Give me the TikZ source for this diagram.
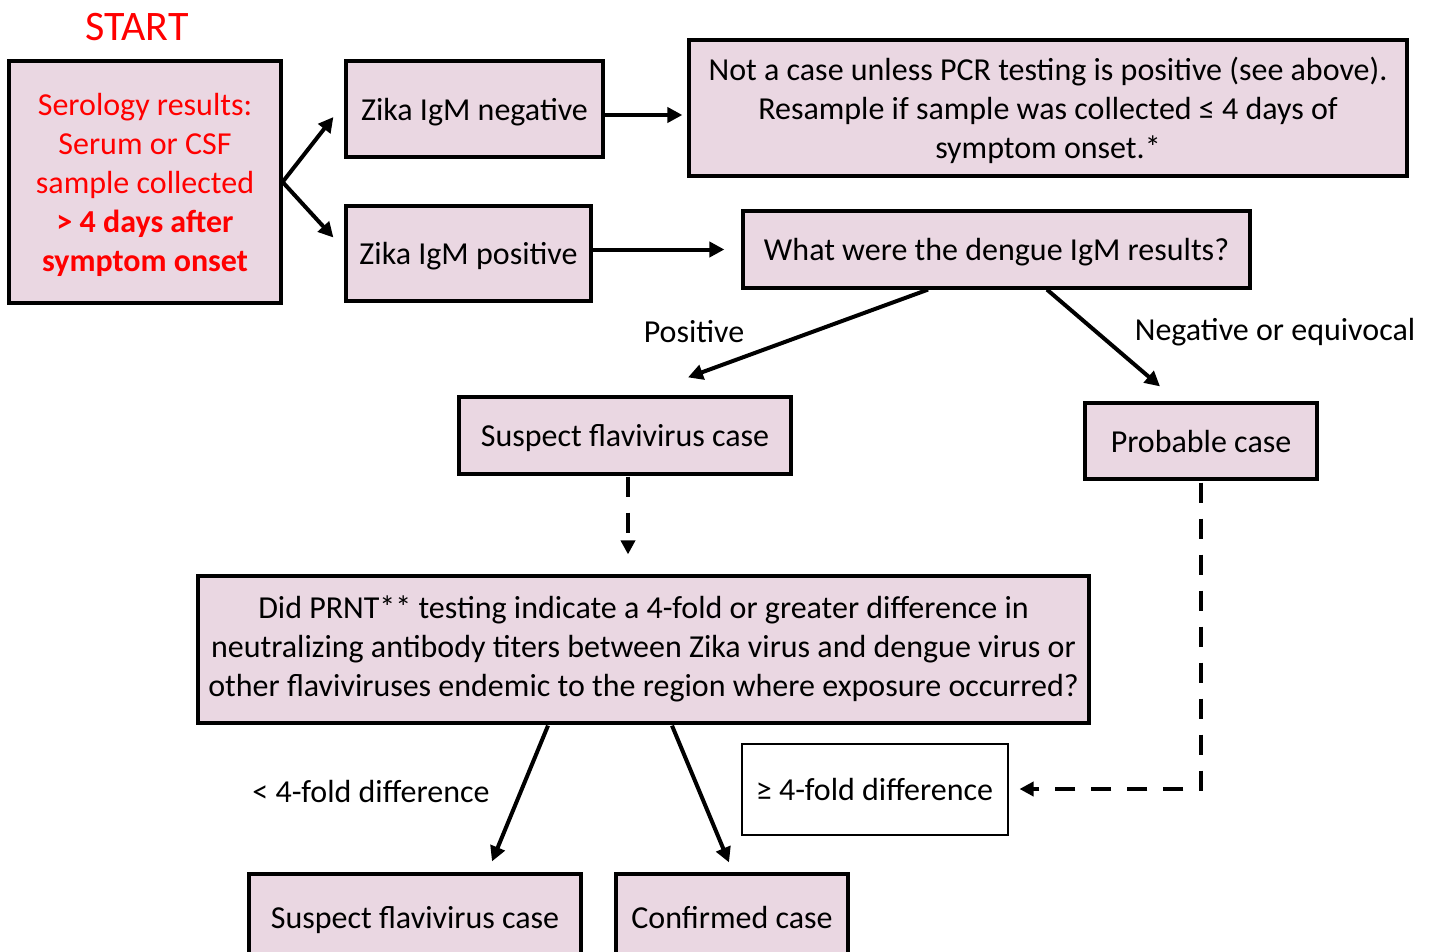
\documentclass[tikz,border=0pt]{standalone}
\usepackage{fontspec}
\setmainfont{Carlito}
\usetikzlibrary{arrows.meta,calc}
\definecolor{boxpink}{RGB}{234,215,226}
\definecolor{startred}{RGB}{255,0,0}
\begin{document}
\begin{tikzpicture}[x=1pt,y=-1pt,
  font=\fontsize{32}{39}\selectfont,
  box/.style={draw=black,line width=3.2pt,fill=boxpink,inner sep=0pt,align=center,text depth=0pt},
  wbox/.style={draw=black,line width=2pt,fill=white,inner sep=0pt,align=center,text depth=0pt},
  arr/.style={line width=4pt,-{Triangle[length=15pt,width=15pt]}},
  darr/.style={line width=4pt,dash pattern=on 20pt off 16pt,-{Triangle[length=14pt,width=14pt]}},
  lbl/.style={inner sep=0pt,text=black}]
\clip (0,0) rectangle (1434,952);
\fill[white] (0,0) rectangle (1434,952);

\node[lbl,text=startred,font=\fontsize{42}{48}\selectfont] (start) at (137,27) {START};
\node[box,minimum width=272pt,minimum height=242pt,text=startred,text depth=-4pt] (A) at (145,182)
  {Serology results:\\Serum or CSF\\sample collected\\\textbf{> 4 days after}\\\textbf{symptom onset}};
\node[box,minimum width=257pt,minimum height=96pt,text depth=-3pt] (B) at (474.5,109) {Zika IgM negative};
\node[box,minimum width=718pt,minimum height=136pt] (C) at (1048,108)
  {Not a case unless PCR testing is positive (see above).\\Resample if sample was collected ≤ 4 days of\\symptom onset.*};
\node[box,minimum width=245pt,minimum height=95pt] (D) at (468.5,253.5) {Zika IgM positive};
\node[box,minimum width=507pt,minimum height=77pt] (E) at (996.5,249.5) {What were the dengue IgM results?};
\node[box,minimum width=332pt,minimum height=77pt] (F) at (625,435.5) {Suspect flavivirus case};
\node[box,minimum width=232pt,minimum height=76pt] (G) at (1201,441) {Probable case};
\node[box,minimum width=891pt,minimum height=147pt,text depth=6pt] (H) at (643.5,649.5)
  {Did PRNT** testing indicate a 4-fold or greater difference in\\neutralizing antibody titers between Zika virus and dengue virus or\\other flaviviruses endemic to the region where exposure occurred?};
\node[wbox,minimum width=266pt,minimum height=91pt] (I) at (874.5,789) {≥ 4-fold difference};
\node[box,minimum width=332pt,minimum height=88pt,text depth=2pt] (J) at (415,918) {Suspect flavivirus case};
\node[box,minimum width=232pt,minimum height=88pt,text depth=2pt] (K) at (732,918) {Confirmed case};

\node[lbl] (pos) at (694,332) {Positive};
\node[lbl] (neg) at (1275,332) {Negative or equivocal};
\node[lbl] (less) at (371,791) {< 4-fold difference};

\draw[arr] (A.east) -- ([shift={(-11,8)}]B.west);
\draw[arr] (A.east) -- ([shift={(-11,-16)}]D.west);
\draw[arr] ([shift={(0,6)}]B.east) -- ([shift={(0,6)}]B.east -| C.west) [shorten >=5pt];
\draw[arr,shorten >=17pt] (D.east |- E.west) -- (E.west);
\draw[arr] ([shift={(-68.5,0)}]E.south) -- ([shift={(63,-18)}]F.north);
\draw[arr] ([shift={(50.5,0)}]E.south) -- ([shift={(-41,-15)}]G.north);
\draw[darr,shorten >=21pt] ([shift={(3,1)}]F.south) -- ([shift={(3,1)}]F.south |- H.north);
\draw[darr,shorten >=11pt] ([shift={(0,2)}]G.south) |- (I.east);
\draw[arr] ([shift={(-95.5,1)}]H.south) -- ([shift={(77,-11)}]J.north);
\draw[arr] ([shift={(28.5,1)}]H.south) -- ([shift={(-3,-10)}]K.north);
\end{tikzpicture}
\end{document}
